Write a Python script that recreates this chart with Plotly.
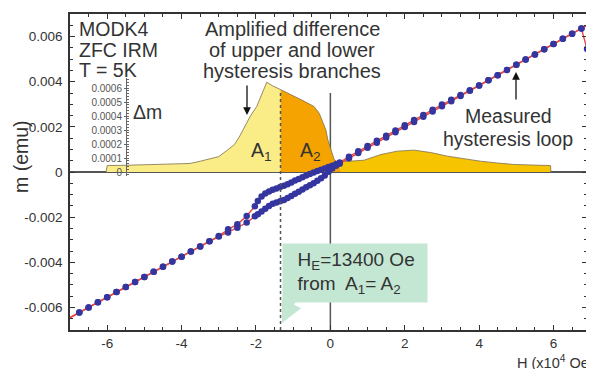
import plotly.graph_objects as go

# ---------------- data ----------------
# descending branch (from +H to -H)
desc_H = [7.0, 6.75, 6.5, 6.25, 6.0, 5.75, 5.5, 5.25, 5.0, 4.75, 4.5, 4.25, 4.0,
          3.75, 3.5, 3.25, 3.0, 2.75, 2.5, 2.25, 2.0, 1.75, 1.5, 1.25, 1.0, 0.75, 0.5, 0.25,
          0.15, 0.05, -0.05, -0.15, -0.25, -0.35, -0.45, -0.55, -0.65, -0.75, -0.85, -0.95,
          -1.05, -1.15, -1.25, -1.35, -1.45, -1.55, -1.65, -1.75, -1.85, -1.95, -2.03,
          -2.25, -2.5, -2.75, -3.0, -3.25, -3.5, -3.75, -4.0, -4.25, -4.5, -4.75, -5.0,
          -5.25, -5.5, -5.75, -6.0, -6.25, -6.5, -6.75, -7.1]
desc_m = [0.00659, 0.00636, 0.00613, 0.0059, 0.00567, 0.00544, 0.00521, 0.00498, 0.00475,
          0.00452, 0.00429, 0.00406, 0.00383, 0.00362, 0.00341, 0.0032, 0.00299, 0.00276,
          0.00253, 0.0023, 0.00207, 0.00184, 0.00161, 0.00138, 0.00115, 0.00092, 0.00068,
          0.00042,
          0.00034, 0.00028, 0.00022, 0.00016, 0.0001, 0.00004, -0.00002, -0.00009, -0.00016,
          -0.00023, -0.00031, -0.00038, -0.00046, -0.00054, -0.00061, -0.00067, -0.00073,
          -0.00079, -0.00086, -0.00095, -0.00108, -0.00128, -0.00152,
          -0.00195, -0.00232, -0.00254, -0.00284, -0.00307, -0.0033, -0.00352, -0.00375,
          -0.00397, -0.0042, -0.00442, -0.00465, -0.00487, -0.0051, -0.00532, -0.00555,
          -0.00577, -0.006, -0.00622, -0.00654]

# ascending branch (from -H to +H)
asc_H = [-7.1, -6.75, -6.5, -6.25, -6.0, -5.75, -5.5, -5.25, -5.0, -4.75, -4.5, -4.25,
         -4.0, -3.75, -3.5, -3.25, -3.0, -2.75, -2.5, -2.25,
         -2.03, -1.95, -1.85, -1.75, -1.65, -1.55, -1.45, -1.35, -1.25, -1.15, -1.05, -0.95,
         -0.85, -0.75, -0.65, -0.55, -0.45, -0.35, -0.25, -0.15, -0.05, 0.05, 0.15,
         0.25, 0.5, 0.75, 1.0, 1.25, 1.5, 1.75, 2.0, 2.25, 2.5, 2.75, 3.0, 3.25, 3.5, 3.75,
         4.0, 4.25, 4.5, 4.75, 5.0, 5.25, 5.5, 5.75, 6.0, 6.25, 6.5, 6.75, 6.9]
asc_m = [-0.00654, -0.00622, -0.006, -0.00577, -0.00555, -0.00532, -0.0051, -0.00487,
         -0.00465, -0.00442, -0.0042, -0.00397, -0.00375, -0.00352, -0.0033, -0.00307,
         -0.00286, -0.00268, -0.00247, -0.00224,
         -0.00196, -0.00187, -0.00175, -0.00163, -0.00151, -0.00141, -0.00135, -0.0013,
         -0.00124, -0.00115, -0.00106, -0.00096, -0.00087, -0.00078, -0.00068, -0.00059,
         -0.0005, -0.00039, -0.00028, -0.00015, 0.00001, 0.00015, 0.00028,
         0.00037, 0.00061, 0.00084, 0.00107, 0.0013, 0.00153, 0.00176, 0.00199, 0.00222,
         0.00245, 0.00268, 0.00291, 0.00314, 0.00337, 0.0036, 0.00383, 0.00406, 0.00429,
         0.00452, 0.00475, 0.00498, 0.00521, 0.00544, 0.00567, 0.0059, 0.00613, 0.00636,
         0.00545]

# amplified difference of the branches (inset axis, Δm)
dm_H = [-6.03, -6.0, -5.5, -5.0, -4.5, -4.0, -3.77, -3.5, -3.25, -3.0, -2.8, -2.58, -2.45,
        -2.3, -2.15, -1.98, -1.85, -1.78, -1.71, -1.55, -1.34, -1.15, -0.98, -0.7, -0.44,
        -0.3, -0.2, -0.12, -0.07, 0.0, 0.1, 0.2, 0.27, 0.5, 0.9, 1.36, 1.8, 2.25, 2.7, 3.15,
        3.6, 4.04, 4.5, 4.93, 5.4, 5.92, 5.93]
dm_val = [0.0, 0.000046, 0.000048, 0.000051, 0.000054, 0.000057, 0.000061, 0.000077,
          0.000092, 0.00011, 0.00015, 0.000196, 0.00025, 0.000325, 0.0004, 0.000468,
          0.00055, 0.000604, 0.000641, 0.000615, 0.000589, 0.000565, 0.00054, 0.000505,
          0.000468, 0.00042, 0.000354, 0.0003, 0.000232, 0.00018, 0.00009, 0.00007,
          0.000073, 0.000076, 0.000084, 0.000125, 0.000149, 0.000156, 0.000139, 0.000113,
          0.000094, 0.000077, 0.000064, 0.000054, 0.00005, 0.000046, 0.0]

H_E = -1.34        # exchange-bias field (x10^4 Oe)
A2_END = 0.27      # end of the A2 region

x_ticks = [-6, -4, -2, 0, 2, 4, 6]
x_ticktext = ["-6", "-4", "-2", "0", "2", "4", "6"]
y_ticks = [0.006, 0.004, 0.002, 0, -0.002, -0.004, -0.006]
y_ticktext = ["0.006", "0.004", "0.002", "0", "-0.002", "-0.004", "-0.006"]
dm_ticks = [0, 0.0001, 0.0002, 0.0003, 0.0004, 0.0005, 0.0006]
dm_ticktext = ["0", "0.0001", "0.0002", "0.0003", "0.0004", "0.0005", "0.0006"]

# ---------------- figure ----------------
# the page body has an 8px default margin: size the figure so the
# plot area lands where the reference shows it
PAGE_OFF = 8
W, HGT = 594 - PAGE_OFF, 369 - PAGE_OFF
PL, PT, PR, PB = 70, 14, 587, 330          # plot-area edges on screen
ML, MT = PL - PAGE_OFF, PT - PAGE_OFF
PW, PH = PR - PL, PB - PT
MR, MB = W - ML - PW, HGT - MT - PH
FONT = "Liberation Sans, Arial, sans-serif"
TXT = "#333333"
RED = "#E8473F"
BLUE = "#3535A0"
MINT = "#C4E7D4"


def px(x):
    return (x - PL) / PW


def py(y):
    return (PB - y) / PH


fig = go.Figure()

regions = [
    ([h for h in dm_H if h <= H_E], "#FAEC86"),
    ([h for h in dm_H if H_E <= h <= A2_END], "#F4A300"),
    ([h for h in dm_H if h >= A2_END], "#F6C400"),
]
for hs, col in regions:
    vals = [dm_val[dm_H.index(h)] for h in hs]
    fig.add_trace(go.Scatter(x=hs, y=vals, xaxis="x", yaxis="y", mode="lines",
                             fill="tozeroy", fillcolor=col,
                             line=dict(color="#7d7050", width=0.8),
                             showlegend=False, hoverinfo="skip"))

for hs, ms in [(desc_H, desc_m), (asc_H, asc_m)]:
    fig.add_trace(go.Scatter(x=hs, y=ms, yaxis="y2", mode="lines",
                             line=dict(color=RED, width=1.4),
                             showlegend=False, hoverinfo="skip"))
for hs, ms in [(desc_H, desc_m), (asc_H, asc_m)]:
    fig.add_trace(go.Scatter(x=hs, y=ms, yaxis="y2", mode="markers",
                             marker=dict(color=BLUE, size=6.5),
                             showlegend=False, hoverinfo="skip"))

# inset axis carrier
fig.add_trace(go.Scatter(x=[None], y=[None], yaxis="y3", showlegend=False,
                         hoverinfo="skip"))

# Δm axis scaling
dm_per_px = 0.0006 / 84.0
half_dm = dm_per_px * PH / 2
y3_bot_px, y3_top_px, zero_px = 176, 78, PT + PH / 2

fig.update_layout(
    width=W, height=HGT,
    margin=dict(l=ML, r=MR, t=MT, b=MB, autoexpand=False),
    paper_bgcolor="white", plot_bgcolor="rgba(0,0,0,0)",
    font=dict(family=FONT, color=TXT),
    xaxis=dict(range=[-7, 6.9], tickvals=x_ticks, ticktext=x_ticktext,
               ticks="inside", ticklen=5, tickcolor="#333", tickwidth=1,
               minor=dict(dtick=0.5, ticks="inside", ticklen=3, tickcolor="#333"),
               showline=True, linecolor="#333", linewidth=1.5, mirror="ticks",
               showgrid=False, zeroline=False,
               tickfont=dict(size=13.5, color=TXT)),
    yaxis=dict(range=[-half_dm, half_dm], visible=False, showgrid=False, zeroline=False),
    yaxis2=dict(overlaying="y", side="left", anchor="x", range=[-0.007, 0.007],
                tickvals=y_ticks, ticktext=y_ticktext,
                ticks="inside", ticklen=5, tickcolor="#333",
                minor=dict(dtick=0.0005, ticks="inside", ticklen=3, tickcolor="#333"),
                showline=True, linecolor="#333", linewidth=1.5, mirror="ticks",
                showgrid=False, zeroline=True, zerolinecolor="#555", zerolinewidth=1.5,
                tickfont=dict(size=13.5, color=TXT), ticklabelstandoff=3),
    yaxis3=dict(domain=[py(y3_bot_px), py(y3_top_px)], anchor="free",
                position=px(126), side="left",
                range=[-(y3_bot_px - zero_px) * dm_per_px, (zero_px - y3_top_px) * dm_per_px],
                tickvals=dm_ticks, ticktext=dm_ticktext,
                ticks="outside", ticklen=2, tickcolor="#666",
                minor=dict(dtick=0.00002, ticks="inside", ticklen=2, tickcolor="#666"),
                showline=True, linecolor="#666", linewidth=1,
                showgrid=False, zeroline=False,
                tickfont=dict(size=10, color="#555")),
)

# reference lines
fig.add_shape(type="line", xref="x", yref="y2", x0=0, x1=0, y0=-0.007, y1=0.0035,
              line=dict(color="#555", width=1.5), layer="below")
fig.add_shape(type="line", xref="x", yref="y2", x0=H_E, x1=H_E, y0=-0.007, y1=0.00362,
              line=dict(color="#555", width=1.5, dash="dot"), layer="above")

ann = []


def text(t, x, y, size=19.5, xanchor="center", **kw):
    ann.append(dict(text=t, x=px(x), y=py(y), xref="paper", yref="paper",
                    xanchor=xanchor, yanchor="middle", showarrow=False,
                    font=dict(size=size, color=TXT, family=FONT), **kw))


for t, y in [("MODK4", 28.5), ("ZFC IRM", 49.5), ("T = 5K", 70)]:
    text(t, 77, y, xanchor="left")
for t, y in [("Amplified difference", 29), ("of upper and lower", 50),
             ("hysteresis branches", 71)]:
    text(t, 292, y, size=20)
for t, y in [("Measured", 116.5), ("hysteresis loop", 139)]:
    text(t, 508, y)
text("Δm", 147, 112)
text("A<sub>1</sub>", 249, 151.5, xanchor="left")
text("A<sub>2</sub>", 298, 151, xanchor="left")
text("H (x10<sup>4</sup> Oe)", 515, 362, size=14.5, xanchor="left")
text("m (emu)", 21, 157, textangle=-90)


def arrow(xh, yh, xt, yt, color="#111", width=1.3, size=1.2, head=2):
    ann.append(dict(text="", x=px(xh), y=py(yh), xref="paper", yref="paper",
                    ax=xt - xh, ay=yt - yh, axref="pixel", ayref="pixel",
                    showarrow=True, arrowhead=head, arrowsize=size,
                    arrowwidth=width, arrowcolor=color))


arrow(247, 115, 247, 84)
arrow(516, 72, 516, 101)
arrow(282, 323, 295, 296, color=MINT, width=6, size=0.72)

ann.append(dict(text="\u00a0\u00a0H<sub>E</sub>=13400 Oe<br>\u00a0\u00a0from  A<sub>1</sub>= A<sub>2</sub>",
                x=px(282), y=py(243), xref="paper", yref="paper",
                xanchor="left", yanchor="top", align="left", valign="middle",
                width=136, height=50, borderpad=4, bgcolor=MINT, showarrow=False,
                font=dict(size=19, color=TXT, family=FONT)))

fig.update_layout(annotations=ann)
fig.write_html("out.html")
